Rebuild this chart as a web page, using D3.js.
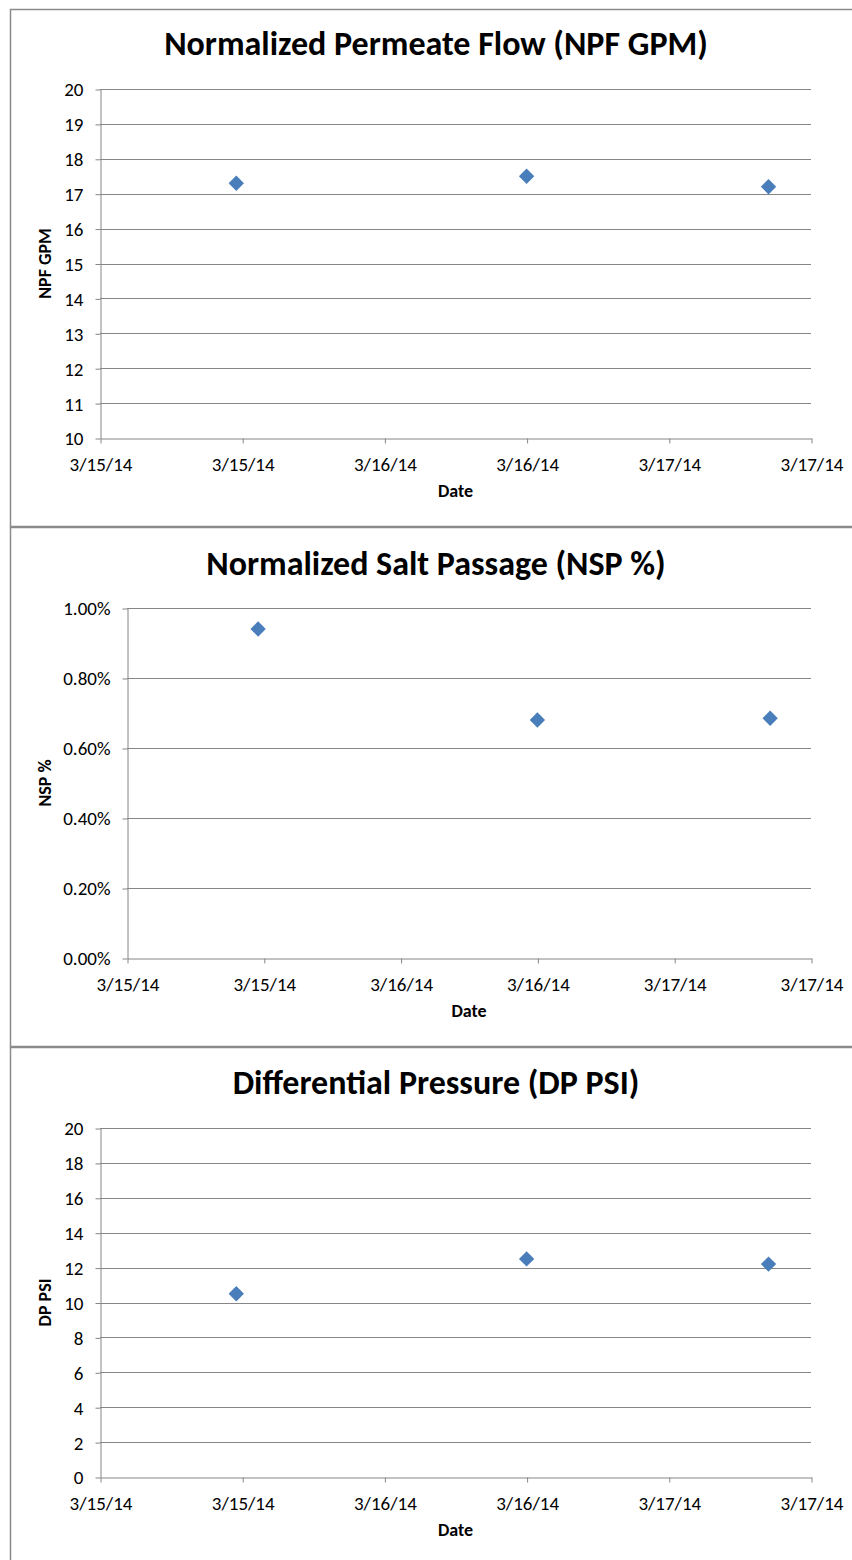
<!DOCTYPE html>
<html>
<head>
<meta charset="utf-8">
<script src="https://cdn.jsdelivr.net/npm/d3@7"></script>
<style>
  body { margin: 0; background: #fff; }
  text { font-family: Carlito, Calibri, Lato, sans-serif; fill: #000; }
</style>
</head>
<body>
<script>

const W = 852;
const H = 1560;

// sample times
const dates = ["2014-03-15T11:30", "2014-03-16T12:00", "2014-03-17T08:25"];
const npf = [17.3, 17.5, 17.2];
const nsp = [0.0094, 0.0068, 0.00685];
const dp = [10.5, 12.5, 12.2];

const xStart = "2014-03-15T00:00";
const xEnd = "2014-03-17T12:00";

const parse = d3.timeParse("%Y-%m-%dT%H:%M");
const fmtDate = d3.timeFormat("%-m/%-d/%y");

const gridColor = "#868686";

var svg = d3.select("body")
    .append("svg")
    .attr("width", W)
    .attr("height", H)

var panels = [
    { top: 9, bottom: 526, title: "Normalized Permeate Flow (NPF GPM)", titleY: 55,
      left: 100, plotTop: 89, plotBottom: 438, yTitle: "NPF GPM",
      values: npf, yDomain: [10, 20], yTicks: d3.range(10, 21, 1), yFmt: d3.format("d") },
    { top: 527, bottom: 1046, title: "Normalized Salt Passage (NSP %)", titleY: 575,
      left: 127, plotTop: 608, plotBottom: 958, yTitle: "NSP %",
      values: nsp, yDomain: [0, 0.01], yTicks: d3.range(0, 0.0101, 0.002), yFmt: d3.format(".2%") },
    { top: 1047, bottom: 1600, title: "Differential Pressure (DP PSI)", titleY: 1094,
      left: 100, plotTop: 1128, plotBottom: 1477, yTitle: "DP PSI",
      values: dp, yDomain: [0, 20], yTicks: d3.range(0, 21, 2), yFmt: d3.format("d") }
];

panels.forEach(drawPanel);

function drawPanel(p) {
    var right = 811;
    var g = svg.append("g");

    // panel border
    g.append("rect")
        .attr("x", 10.5)
        .attr("y", p.top + 0.5)
        .attr("width", 900)
        .attr("height", p.bottom - p.top)
        .attr("fill", "none")
        .attr("stroke", "#8a8a8a")
        .attr("stroke-width", 1.5)

    var x = d3.scaleTime()
        .domain([parse(xStart), parse(xEnd)])
        .range([p.left, right]);
    var y = d3.scaleLinear()
        .domain(p.yDomain)
        .range([p.plotBottom, p.plotTop]);

    // gridlines
    g.append("g")
        .selectAll("line")
        .data(p.yTicks.slice(1))
        .join("line")
        .attr("x1", p.left)
        .attr("x2", right)
        .attr("y1", d => Math.round(y(d)) + 0.5)
        .attr("y2", d => Math.round(y(d)) + 0.5)
        .attr("stroke", gridColor)

    var yAxis = g.append("g")
        .attr("transform", "translate(" + (p.left + 0.5) + ",0.5)")
        .call(d3.axisLeft(y).tickValues(p.yTicks).tickFormat(p.yFmt).tickSize(5).tickPadding(12).tickSizeOuter(0));

    var xAxis = g.append("g")
        .attr("transform", "translate(0.5," + (p.plotBottom + 0.5) + ")")
        .call(d3.axisBottom(x).ticks(d3.timeHour.every(12)).tickFormat(fmtDate).tickSize(5).tickPadding(14).tickSizeOuter(0));

    [yAxis, xAxis].forEach(function (a) {
        a.selectAll("path, line").attr("stroke", gridColor);
        a.selectAll("text").style("font-size", "19px").attr("fill", "#000");
    });
    yAxis.selectAll("text").attr("dy", "0.34em");

    // titles
    g.append("text")
        .attr("x", 436)
        .attr("y", p.titleY)
        .attr("text-anchor", "middle")
        .style("font-size", "34px")
        .style("font-weight", "bold")
        .text(p.title)

    g.append("text")
        .attr("x", (p.left + right) / 2)
        .attr("y", p.plotBottom + 59)
        .attr("text-anchor", "middle")
        .style("font-size", "18px")
        .style("font-weight", "bold")
        .text("Date")

    g.append("text")
        .attr("transform", "translate(51," + (p.plotTop + p.plotBottom) / 2 + ") rotate(-90)")
        .attr("text-anchor", "middle")
        .style("font-size", "18px")
        .style("font-weight", "bold")
        .text(p.yTitle)

    // markers
    g.append("g")
        .selectAll("path")
        .data(dates.map((d, i) => ({ date: parse(d), value: p.values[i] })))
        .join("path")
        .attr("transform", d => "translate(" + x(d.date) + "," + y(d.value) + ")")
        .attr("d", d3.symbol(d3.symbolDiamond2, 150))
        .attr("fill", "#4a7ebb")
}
</script>
</body>
</html>
